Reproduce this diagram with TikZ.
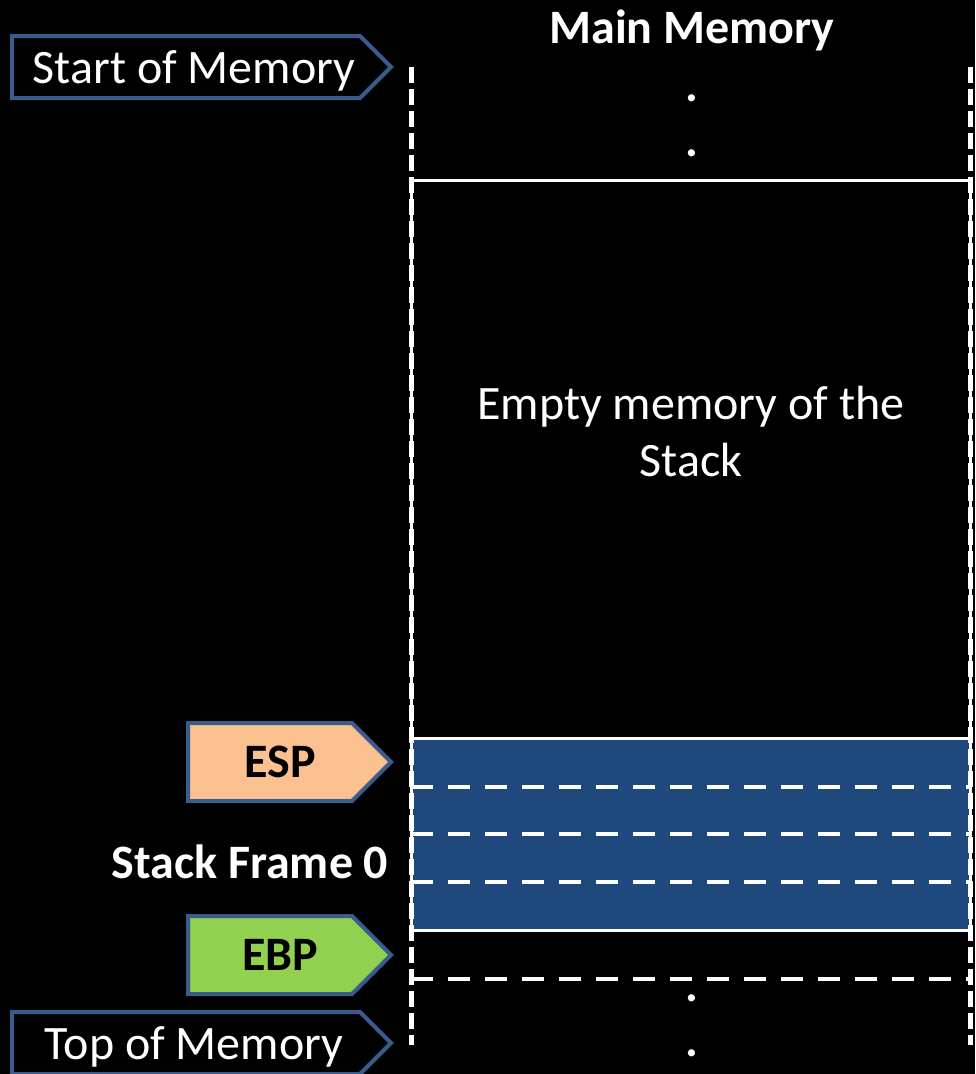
\documentclass[tikz,border=0pt]{standalone}
\usepackage{fontspec}
\setmainfont{Carlito}
\usetikzlibrary{shapes.symbols,positioning}

\definecolor{tagline}{RGB}{56,93,138}
\definecolor{stackblue}{RGB}{31,73,125}
\definecolor{espfill}{RGB}{250,192,144}
\definecolor{ebpfill}{RGB}{146,208,80}

\newcommand{\bigfont}{\fontsize{48}{57}\selectfont}

\tikzset{
  tag/.style={signal, signal to=east, signal pointer angle=90, draw=tagline,
    line width=4pt, outer sep=0pt, anchor=east, inner sep=0pt},
  memtag/.style={tag, minimum width=379pt, minimum height=62pt, text=white,
    text depth=0pt, font=\bigfont, execute at begin node=\hspace*{16pt}},
  regtag/.style={tag, minimum width=203pt, minimum height=78pt, text=black,
    font=\bigfont\bfseries, execute at begin node=\hspace*{20pt}},
  cell/.style={draw=white, line width=3pt, outer sep=0pt, inner sep=0pt},
  sideline/.style={white, line width=5pt, dash pattern=on 16pt off 6pt},
  slotline/.style={white, line width=4pt, dash pattern=on 22pt off 15pt},
  dotmark/.style={text=white, font=\bigfont\bfseries, inner sep=0pt}
}

\begin{document}
\begin{tikzpicture}[x=1pt,y=-1pt]
  \fill[black] (0,0) rectangle (975,1074);
  \useasboundingbox (0,0) rectangle (975,1074);

  % memory column
  \node[cell, minimum width=559pt, minimum height=558pt] (empty) at (690.5,459) {};
  \node[cell, fill=stackblue, minimum width=559pt, minimum height=192pt] (frame0) at (690.5,834) {};
  \node[text=white, align=center, font=\bigfont] (emptytxt) at (691,432)
    {Empty memory of the\\Stack};
  \node[text=white, font=\bigfont\bfseries] (title) at (692,30) {Main Memory};

  \coordinate (lt) at (411,67);
  \coordinate (lb) at (411,1045);
  \coordinate (rt) at (970,67);
  \coordinate (rb) at (970,1045);
  \draw[sideline] (lt) -- (lb);
  \draw[sideline] (rt) -- (rb);

  \foreach \y in {787,834,882,979}
    \draw[slotline] (411,\y) -- (970,\y);

  \foreach \y/\n in {95/a,150/b,995/c,1050/d}
    \node[dotmark] (dot\n) at (692,\y+3) {.};

  % pointers
  \node[memtag] (start) at (391,67) {Start of Memory};
  \node[memtag] (top) at (391,1043) {Top of Memory};
  \node[regtag, fill=espfill] (esp) at (391,762) {ESP};
  \node[regtag, fill=ebpfill] (ebp) at (391,955) {EBP};
  \node[text=white, font=\bigfont\bfseries] (framelbl) at (250,862) {Stack Frame 0};
\end{tikzpicture}
\end{document}
